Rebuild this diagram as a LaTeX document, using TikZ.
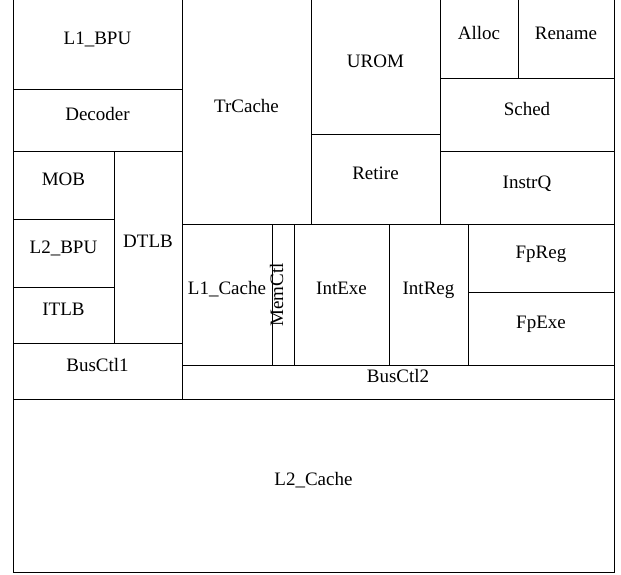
\documentclass[tikz,border=0pt]{standalone}
\usepackage{fontspec}
\setmainfont{Liberation Serif}
\begin{document}
\begin{tikzpicture}[x=1pt,y=-1pt,
  box/.style={draw, line width=1pt, inner sep=0pt, outer sep=0pt, anchor=north west},
  lbl/.style={anchor=base, inner sep=0pt, font=\fontsize{19}{19}\selectfont}]
\useasboundingbox (0,0) rectangle (621,575);
\newcommand\blk[6]{\node[box, minimum width=#4pt, minimum height=#5pt] (#1) at (#2,#3) {};
  \node[lbl] (#1-t) at (#1.center) {#6};}
\blk{lbpu}{13}{0}{169}{90}{L1\_BPU}
\blk{dec}{13}{90}{169}{62}{Decoder}
\blk{mob}{13}{152}{101}{67}{MOB}
\blk{lbpuii}{13}{219}{101}{68}{L2\_BPU}
\blk{itlb}{13}{287}{101}{56}{ITLB}
\blk{dtlb}{114}{152}{68}{191}{DTLB}
\blk{bci}{13}{343}{169}{56}{BusCtl1}
\blk{trc}{182}{0}{129}{224.5}{TrCache}
\blk{urom}{311}{0}{129}{135}{UROM}
\blk{ret}{311}{135}{129}{89.5}{Retire}
\blk{alloc}{440}{0}{78}{79}{Alloc}
\blk{ren}{518}{0}{96}{79}{Rename}
\blk{sched}{440}{79}{174}{73}{Sched}
\blk{iq}{440}{152}{174}{72.5}{InstrQ}
\blk{lic}{182}{224.5}{90}{140.5}{L1\_Cache}
\node[box, minimum width=22pt, minimum height=140.5pt] (mem) at (272,224.5) {};
\node[lbl, rotate=90] (mem-t) at (mem.center) {MemCtl};
\blk{ie}{294}{224.5}{95}{140.5}{IntExe}
\blk{ir}{389}{224.5}{79}{140.5}{IntReg}
\blk{fr}{468}{224.5}{146}{67.5}{FpReg}
\blk{fe}{468}{292}{146}{73}{FpExe}
\blk{bcii}{182}{365}{432}{34}{BusCtl2}
\blk{lic2}{13}{399}{601}{173}{L2\_Cache}
\end{tikzpicture}
\end{document}
